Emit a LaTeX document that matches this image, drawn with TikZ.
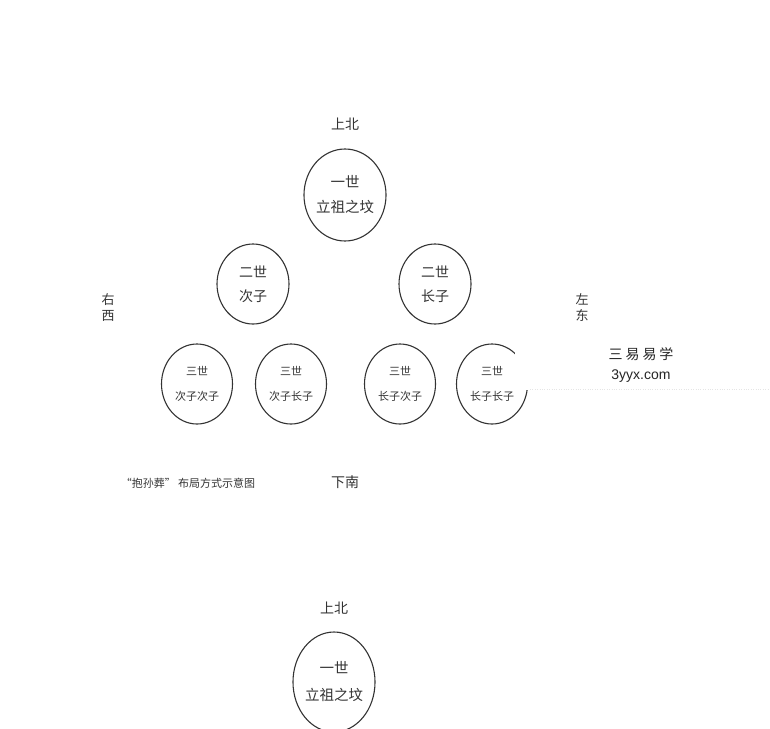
\documentclass[tikz,border=0pt]{standalone}
\usepackage{fontspec}
\newfontfamily\cjk{Noto Sans CJK SC}
\setmainfont{Liberation Sans}
\usetikzlibrary{positioning,shapes.geometric}

\definecolor{ink}{HTML}{333333}

\begin{document}
\begin{tikzpicture}[x=1pt, y=-1pt,
node distance = 16pt and 10pt,
grave/.style   = {ellipse, draw=ink, line width=1.1pt, inner sep=0pt, align=center, text=ink},
bigfont/.style = {font={\cjk\fontsize{14.5}{25}\selectfont}},
midfont/.style = {font={\cjk\fontsize{14}{24}\selectfont}},
smlfont/.style = {font={\cjk\fontsize{11}{25}\selectfont}},
dir/.style     = {text=ink, align=center, inner sep=1pt, font={\cjk\fontsize{14}{16}\selectfont}}
]
\useasboundingbox (0,0) rectangle (770,728);

% first generation
\node (zu) [grave, bigfont, minimum width=82pt, minimum height=92pt] at (345,195) {一世\\立祖之坟};
\node (bei) [dir, above=17pt of zu] {上北};

% second generation
\node (ci) [grave, midfont, minimum width=72pt, minimum height=80pt] at (253,284) {二世\\次子};
\node (zhang) [grave, midfont, minimum width=72pt, minimum height=80pt] at (435,284) {二世\\长子};

% third generation
\node (cici) [grave, smlfont, minimum width=71pt, minimum height=80pt] at (197,384) {三世\\次子次子};
\node (cizhang) [grave, smlfont, minimum width=71pt, minimum height=80pt] at (291,384) {三世\\次子长子};
\node (zhangci) [grave, smlfont, minimum width=71pt, minimum height=80pt] at (400,384) {三世\\长子次子};
\node (zhangzhang) [grave, smlfont, minimum width=71pt, minimum height=80pt] at (492,384) {三世\\长子长子};

% sides
\node (xi) [dir, font={\cjk\fontsize{13}{16}\selectfont}] at (108,308) {右\\西};
\node (dong) [dir, font={\cjk\fontsize{13}{16}\selectfont}] at (582,308) {左\\东};
\node (nan) [dir] at (345,482) {下南};
\node (title) [text=ink, font={\cjk\fontsize{11}{13}\selectfont}] at (188,483) {“抱孙葬” 布局方式示意图};

% watermark box
\fill[white] (515,334) rectangle (770,390);
\draw[black!10, dotted] (530,389) -- (770,389);
\node (wm) [text=black!85, font={\cjk\fontsize{14}{16}\selectfont}] at (641,354) {三\hspace{3pt}易\hspace{3pt}易\hspace{3pt}学};
\node (site) [text=black!85, font={\fontsize{14}{16}\selectfont}, below=2pt of wm] {3yyx.com};

% second copy, cut off
\node (zu2) [grave, font={\cjk\fontsize{14.5}{27}\selectfont}, minimum width=82pt, minimum height=100pt] at (334,682) {一世\\立祖之坟};
\node (bei2) [dir, above=16pt of zu2] {上北};

\end{tikzpicture}
\end{document}
